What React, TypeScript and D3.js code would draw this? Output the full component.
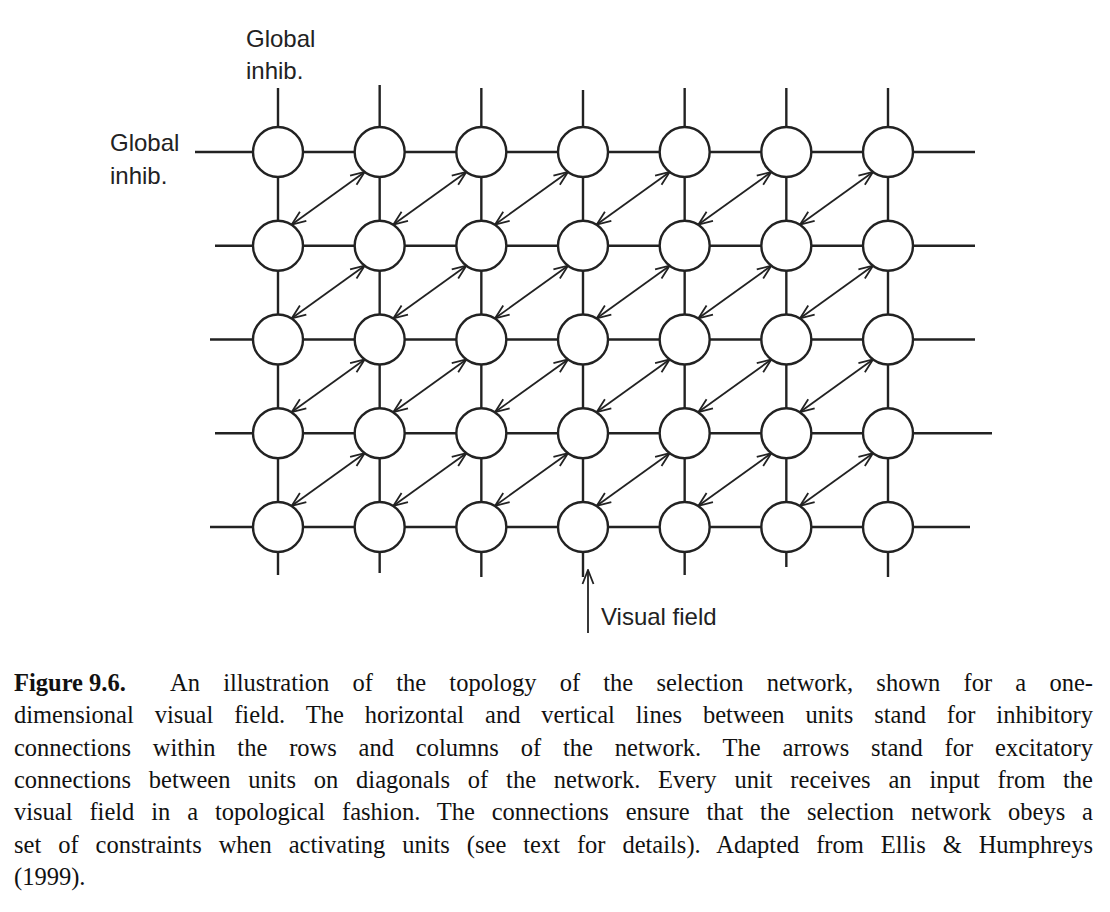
import React, { useEffect, useRef } from "react";
import * as d3 from "d3";

const columns = [0, 1, 2, 3, 4, 5, 6];
const rows = [0, 1, 2, 3, 4];
// horizontal line extents per row (left end, right end)
const rowLeft = [195, 215, 210, 215, 210];
const rowRight = [975, 975, 975, 992, 970];
// vertical line extents per column (top, bottom)
const colTop = [88, 85, 88, 90, 88, 88, 88];
const colBottom = [575, 573, 577, 577, 575, 567, 577];
const captionLines = [
  "An illustration of the topology of the selection network, shown for a one-",
  "dimensional visual field. The horizontal and vertical lines between units stand for inhibitory",
  "connections within the rows and columns of the network. The arrows stand for excitatory",
  "connections between units on diagonals of the network. Every unit receives an input from the",
  "visual field in a topological fashion. The connections ensure that the selection network obeys a",
  "set of constraints when activating units (see text for details). Adapted from Ellis & Humphreys",
  "(1999).",
];

const App = () => {
  const ref = useRef<SVGSVGElement>(null);

  useEffect(() => {
    if (!ref.current) return;
    const svg = d3.select(ref.current);
    svg.selectAll("*").remove();
    const x = d3.scaleLinear().domain([0, 6]).range([278, 888]);
    const y = d3.scaleLinear().domain([0, 4]).range([152, 527]);
    const r = 25;
    const stroke = "#222";

    const defs = svg.append("defs");
    defs.append("marker").attr("id", "hd").attr("viewBox", "0 0 16 14")
      .attr("refX", 15).attr("refY", 7).attr("markerWidth", 16).attr("markerHeight", 14)
      .attr("markerUnits", "userSpaceOnUse").attr("orient", "auto-start-reverse")
      .append("path").attr("d", "M1,1.5 L15,7 L1,12.5").attr("fill", "none")
      .attr("stroke", stroke).attr("stroke-width", 1.8);

    const g = svg.append("g");
    g.selectAll(".h").data(rows).enter().append("line")
      .attr("x1", (d) => rowLeft[d]).attr("x2", (d) => rowRight[d])
      .attr("y1", (d) => y(d)).attr("y2", (d) => y(d))
      .attr("stroke", stroke).attr("stroke-width", 2.4);
    g.selectAll(".v").data(columns).enter().append("line")
      .attr("x1", (d) => x(d)).attr("x2", (d) => x(d))
      .attr("y1", (d) => colTop[d]).attr("y2", (d) => colBottom[d])
      .attr("stroke", stroke).attr("stroke-width", 2.4);

    const diag: [number, number][] = [];
    rows.slice(0, -1).forEach((ri) => columns.slice(0, -1).forEach((ci) => diag.push([ri, ci])));
    g.selectAll(".a").data(diag).enter().append("line")
      .attr("x1", ([, c]) => x(c) + r * 0.55).attr("y1", ([ri]) => y(ri + 1) - r * 0.85)
      .attr("x2", ([, c]) => x(c + 1) - r * 0.6).attr("y2", ([ri]) => y(ri) + r * 0.8)
      .attr("stroke", stroke).attr("stroke-width", 1.8)
      .attr("marker-start", "url(#hd)").attr("marker-end", "url(#hd)");

    const nodes: [number, number][] = [];
    rows.forEach((ri) => columns.forEach((ci) => nodes.push([ri, ci])));
    g.selectAll(".n").data(nodes).enter().append("circle")
      .attr("cx", ([, c]) => x(c)).attr("cy", ([ri]) => y(ri)).attr("r", r)
      .attr("fill", "white").attr("stroke", stroke).attr("stroke-width", 2.4);

    // visual field input
    g.append("line").attr("x1", 588).attr("x2", 588).attr("y1", 633).attr("y2", 570)
      .attr("stroke", stroke).attr("stroke-width", 1.8).attr("marker-end", "url(#hd)");

    const sans = "Liberation Sans, Arial, sans-serif";
    const lab = (t: string, lx: number, ly: number) =>
      g.append("text").attr("x", lx).attr("y", ly).attr("font-family", sans)
        .attr("font-size", 24).attr("fill", "#222").text(t);
    lab("Global", 246, 47); lab("inhib.", 246, 79);
    lab("Global", 110, 151); lab("inhib.", 110, 184);
    lab("Visual field", 601, 625);

    const serif = "Liberation Serif, Times New Roman, serif";
    const cap = g.append("g").attr("font-family", serif).attr("font-size", 24.5).attr("fill", "#111");
    const ys = d3.range(captionLines.length).map((i) => 691 + i * 32.3);
    // justify by widening word spaces
    const justify = (sel: d3.Selection<SVGTextElement, unknown, null, undefined>, t: string, width: number) => {
      const node = sel.node()!;
      const w = node.getComputedTextLength();
      const gaps = t.split(" ").length - 1;
      if (gaps > 0 && w < width) sel.attr("word-spacing", (width - w) / gaps);
    };
    cap.append("text").attr("x", 14).attr("y", ys[0]).attr("font-weight", "bold").text("Figure 9.6.");
    const t0 = cap.append("text").attr("x", 170).attr("y", ys[0]).text(captionLines[0]);
    justify(t0 as any, captionLines[0], 923);
    captionLines.slice(1).forEach((t, i) => {
      const last = i === captionLines.length - 2;
      const tx = cap.append("text").attr("x", 14).attr("y", ys[i + 1]).text(t);
      if (!last) justify(tx as any, t, 1079);
    });
  }, []);

  return <svg ref={ref} width={1110} height={912} style={{ display: "block", margin: -8 }} />;
};

export default App;
